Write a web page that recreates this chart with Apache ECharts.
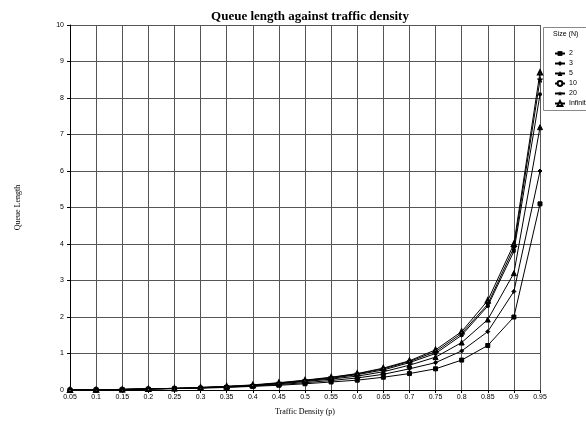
<!DOCTYPE html>
<html><head><meta charset="utf-8">
<script src="https://cdn.jsdelivr.net/npm/echarts@6/dist/echarts.min.js"></script>
<style>html,body{margin:0;padding:0;background:#fff}#c{width:586px;height:421px}</style>
</head><body><div id="c"></div>
<script>
const categories = ['0.05','0.1','0.15','0.2','0.25','0.3','0.35','0.4','0.45','0.5','0.55','0.6','0.65','0.7','0.75','0.8','0.85','0.9','0.95'];
const seriesNames = ['2','3','5','10','20','Infinite'];
const n2   = [0.002,0.008,0.015,0.025,0.04,0.05,0.07,0.10,0.13,0.17,0.22,0.27,0.35,0.45,0.58,0.82,1.22,2.0,5.1];
const n3   = [0.002,0.008,0.015,0.03,0.04,0.06,0.08,0.11,0.15,0.20,0.26,0.33,0.43,0.58,0.75,1.07,1.6,2.7,6.0];
const n5   = [0.002,0.008,0.015,0.03,0.04,0.06,0.09,0.12,0.17,0.23,0.30,0.38,0.50,0.68,0.90,1.30,1.93,3.2,7.2];
const n10  = [0.002,0.008,0.015,0.03,0.045,0.06,0.09,0.13,0.18,0.25,0.32,0.42,0.55,0.75,1.00,1.50,2.30,3.8,8.1];
const n20  = [0.002,0.008,0.015,0.03,0.045,0.07,0.10,0.13,0.19,0.26,0.34,0.44,0.58,0.78,1.05,1.55,2.35,3.9,8.5];
const nInf = [0.002,0.008,0.015,0.03,0.045,0.07,0.10,0.14,0.20,0.27,0.35,0.45,0.60,0.80,1.10,1.60,2.45,4.0,8.7];
const yTicks = [0,1,2,3,4,5,6,7,8,9,10];

const allData = [n2,n3,n5,n10,n20,nInf];
const symbols = ['rect','diamond','triangle','emptyCircle','path://M0,-10L2,-3L10,-3L4,2L6,10L0,5L-6,10L-4,2L-10,-3L-2,-3Z','emptyTriangle'];
const sizes = [4,4,5,2,5,4];

const chart = echarts.init(document.getElementById('c'));
chart.setOption({
  animation:false,
  backgroundColor:'#fff',
  title:{text:'Queue length against traffic density',left:305,textAlign:'center',top:5,
    textStyle:{fontFamily:'Liberation Serif',fontSize:13,fontWeight:'bold',color:'#000'}},
  grid:{left:70,right:46,top:25,bottom:30},
  legend:{orient:'vertical',left:549,top:45,itemWidth:10,itemHeight:6,itemGap:3,
    data:seriesNames,
    textStyle:{fontFamily:'Liberation Sans',fontSize:7,color:'#000',padding:[0,0,0,-1]}},
  graphic:[
    {type:'rect',shape:{x:543.5,y:27.5,width:50,height:83},style:{fill:'none',stroke:'#888',lineWidth:1}},
    {type:'text',x:553,y:31,style:{text:'Size (N)',fontFamily:'Liberation Sans',fontSize:7,fill:'#000'}}
  ],
  xAxis:{type:'category',data:categories,boundaryGap:false,
    name:'Traffic Density (p)',nameLocation:'middle',nameGap:18,
    nameTextStyle:{fontFamily:'Liberation Serif',fontSize:8,color:'#000'},
    axisLine:{lineStyle:{color:'#000'}},axisTick:{show:true,length:3,lineStyle:{color:'#000'}},
    axisLabel:{fontFamily:'Liberation Sans',fontSize:7,color:'#000',margin:4,interval:0},
    splitLine:{show:true,lineStyle:{color:'#555',width:1}}},
  yAxis:{type:'value',min:0,max:10,interval:1,
    name:'Queue Length',nameLocation:'middle',nameGap:48,
    nameTextStyle:{fontFamily:'Liberation Serif',fontSize:8,color:'#000'},
    axisLine:{show:true,lineStyle:{color:'#000'}},axisTick:{show:true,length:3,lineStyle:{color:'#000'}},
    axisLabel:{fontFamily:'Liberation Sans',fontSize:7,color:'#000',margin:6},
    splitLine:{show:true,lineStyle:{color:'#555',width:1}}},
  series: seriesNames.map((nm,i)=>({
    name:nm,type:'line',data:allData[i],symbol:symbols[i],symbolSize:sizes[i],
    lineStyle:{color:'#000',width:1},itemStyle:{color:'#000',borderColor:'#000'},
    color:'#000'
  }))
});
</script></body></html>
